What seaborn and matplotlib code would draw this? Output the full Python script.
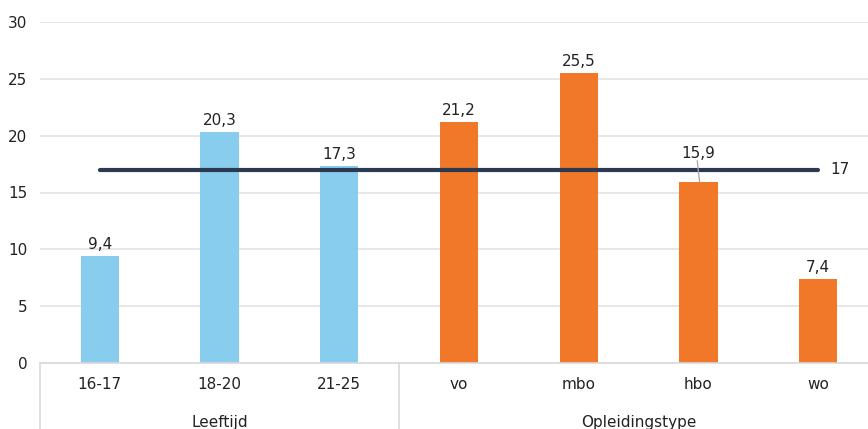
import matplotlib
matplotlib.use("Agg")
import matplotlib.pyplot as plt
import seaborn as sns
import pandas as pd

categories = ["16-17", "18-20", "21-25", "vo", "mbo", "hbo", "wo"]
values = [9.4, 20.3, 17.3, 21.2, 25.5, 15.9, 7.4]
groups = ["Leeftijd", "Leeftijd", "Leeftijd",
          "Opleidingstype", "Opleidingstype", "Opleidingstype", "Opleidingstype"]
average = 17
yticks = [0, 5, 10, 15, 20, 25, 30]

sns.set_theme(style="white")
plt.rcParams["font.family"] = ["Liberation Sans Narrow", "DejaVu Sans"]

df = pd.DataFrame({"categorie": categories, "waarde": values, "groep": groups})

fig = plt.figure(figsize=(8.68, 4.29), dpi=100)
ax = fig.add_axes([40 / 868, 66 / 429, 838 / 868, 341 / 429])

sns.barplot(data=df, x="categorie", y="waarde", hue="groep",
            palette={"Leeftijd": "#88CCEE", "Opleidingstype": "#F07828"},
            saturation=1, dodge=False, width=0.32, legend=False, ax=ax,
            linewidth=0, zorder=2)

ax.set_xlim(-0.5, len(categories) - 0.5)
ax.set_ylim(0, 30)
ax.set_yticks(yticks)
ax.set_yticklabels([str(t) for t in yticks], fontsize=11, color="#222222")
ax.yaxis.grid(True, color="#E3E3E3", linewidth=1.2, zorder=0)
ax.set_axisbelow(True)
for s in ["top", "right", "left"]:
    ax.spines[s].set_visible(False)
ax.spines["bottom"].set_color("#D9D9D9")
ax.spines["bottom"].set_linewidth(1.2)
ax.tick_params(axis="y", length=0, pad=9)
ax.tick_params(axis="x", length=0, pad=10, labelsize=11, labelcolor="#222222")
ax.set_xlabel("")
ax.set_ylabel("")

# average line across all categories
ax.plot([0, len(categories) - 1], [average, average], color="#2B3A52",
        linewidth=3, solid_capstyle="round", zorder=3)
ax.text(len(categories) - 1 + 0.1, average, str(average), va="center",
        ha="left", fontsize=11, color="#222222")

# value labels
for i, v in enumerate(values):
    label = f"{v:.1f}".replace(".", ",")
    if categories[i] == "hbo":
        ax.text(i, v + 1.85, label, ha="center", va="bottom", fontsize=11,
                color="#222222", zorder=4)
        ax.plot([i - 0.01, i + 0.01], [v + 1.9, v], color="#A6A6A6",
                linewidth=0.9, zorder=4)
    else:
        ax.text(i, v + 0.35, label, ha="center", va="bottom", fontsize=11,
                color="#222222", zorder=4)

# grouped category axis below the plot
trans = ax.get_xaxis_transform()
for xb in [-0.5, 2.5]:
    ax.plot([xb, xb], [0, -0.25], transform=trans, color="#D9D9D9",
            linewidth=1.2, clip_on=False)
ax.text(1, -0.175, "Leeftijd", transform=trans, ha="center", va="center",
        fontsize=11, color="#222222")
ax.text(4.5, -0.175, "Opleidingstype", transform=trans, ha="center",
        va="center", fontsize=11, color="#222222")

fig.savefig("out.png", dpi=100)
